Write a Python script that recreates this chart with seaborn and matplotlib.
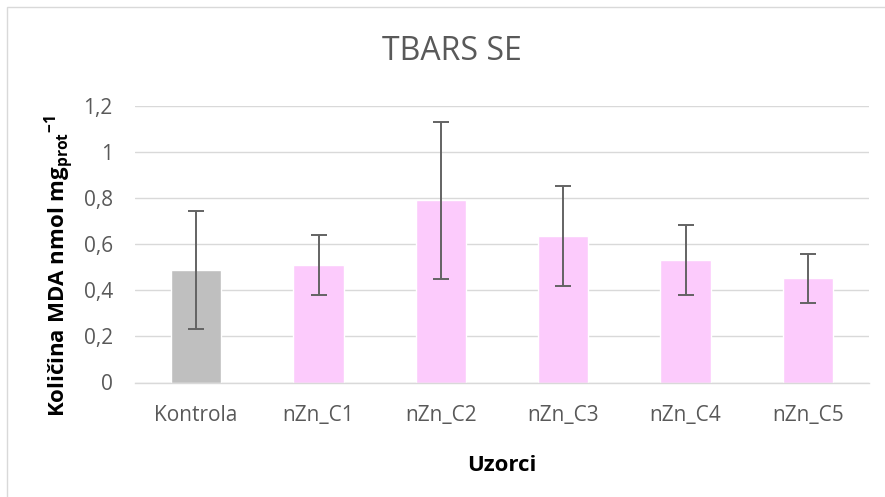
import matplotlib
matplotlib.use("Agg")
import matplotlib.pyplot as plt
import seaborn as sns
import pandas as pd
from matplotlib.patches import Rectangle

# Sample groups and mean MDA content with standard errors
samples = ["Kontrola", "nZn_C1", "nZn_C2", "nZn_C3", "nZn_C4", "nZn_C5"]
mda_mean = [0.49, 0.51, 0.79, 0.635, 0.53, 0.452]
mda_se = [0.256, 0.131, 0.34, 0.218, 0.152, 0.106]
bar_colors = ["#bfbfbf", "#fccbfc", "#fccbfc", "#fccbfc", "#fccbfc", "#fccbfc"]
y_ticks = [0, 0.2, 0.4, 0.6, 0.8, 1.0, 1.2]
y_tick_labels = ["0", "0,2", "0,4", "0,6", "0,8", "1", "1,2"]

df = pd.DataFrame({"sample": samples, "mda": mda_mean, "se": mda_se})

sns.set_theme(style="white")
plt.rcParams["font.family"] = ["Open Sans", "DejaVu Sans"]
plt.rcParams["mathtext.fontset"] = "custom"
plt.rcParams["mathtext.bf"] = "Open Sans:bold"
plt.rcParams["mathtext.rm"] = "Open Sans"

fig = plt.figure(figsize=(8.85, 4.97), dpi=100)
ax = fig.add_axes([135 / 885, 1 - 382.5 / 497, 734 / 885, 276.5 / 497])

sns.barplot(data=df, x="sample", y="mda", hue="sample", palette=bar_colors,
            width=0.41, legend=False, ax=ax, errorbar=None, saturation=1)

# Standard error whiskers
ax.errorbar(range(len(samples)), df["mda"], yerr=df["se"], fmt="none",
            ecolor="#636363", elinewidth=1.4, capsize=5.5, capthick=1.4, zorder=4)

ax.set_ylim(0, 1.2)
ax.set_xlim(-0.5, len(samples) - 0.5)
ax.set_yticks(y_ticks)
ax.set_yticklabels(y_tick_labels)
ax.yaxis.grid(True, color="#d9d9d9", linewidth=1.0)
ax.set_axisbelow(True)
for side in ["top", "right", "left"]:
    ax.spines[side].set_visible(False)
ax.spines["bottom"].set_color("#d9d9d9")
ax.spines["bottom"].set_linewidth(1.0)
ax.tick_params(axis="both", length=0, labelsize=15, colors="#595959", pad=16)
ax.tick_params(axis="x", pad=16)

ax.set_xlabel("Uzorci", fontsize=16, fontweight="bold", color="black", labelpad=21)
ax.set_ylabel(r"Količina MDA nmol mg$_{\mathbf{prot}}$$^{\mathbf{-1}}$",
              fontsize=16, fontweight="bold", color="black")
ax.yaxis.set_label_coords(-0.080, 0.42)

fig.text(452 / 885, 1 - 51 / 497, "TBARS SE", ha="center", va="center",
         fontsize=23, color="#595959")

# Chart area border
fig.patches.append(Rectangle((7 / 885, -0.1), 1.2, 1 - 7 / 497 + 0.1,
                             transform=fig.transFigure, fill=False,
                             edgecolor="#d9d9d9", linewidth=1.0))

fig.savefig("out.png", dpi=100, facecolor="white")
